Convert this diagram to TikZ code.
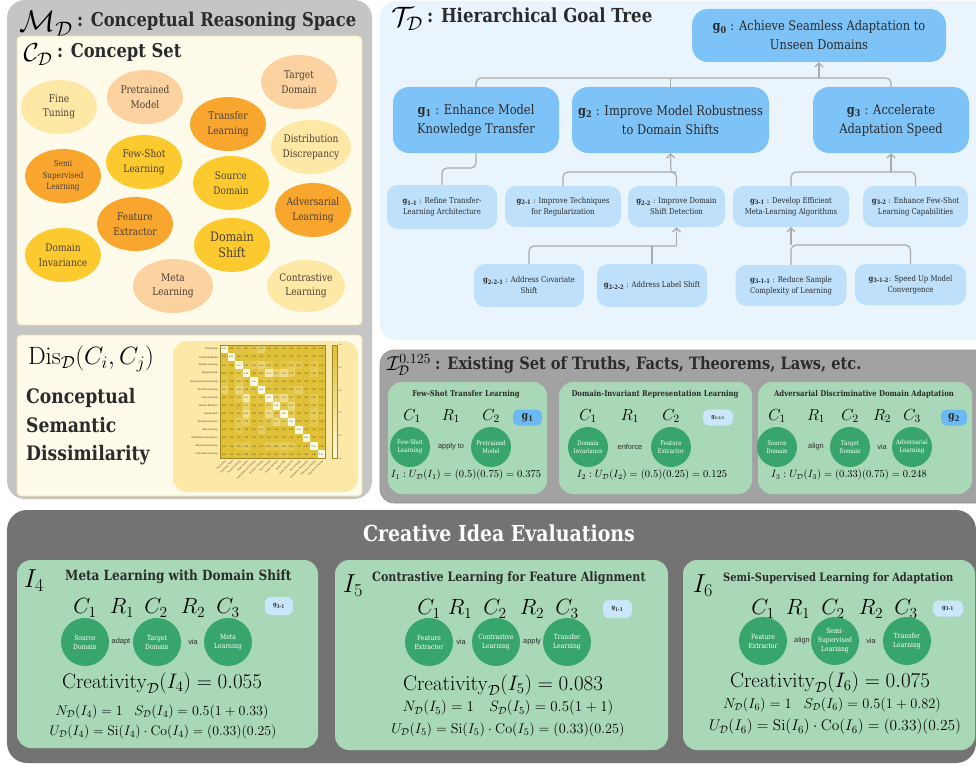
\RequirePackage{fix-cm}
\documentclass[tikz,border=0pt]{standalone}
\usepackage[no-math]{fontspec}
\setmainfont{DejaVu Serif}[FakeStretch=0.86]
\newfontfamily\relfont{Liberation Sans}
\usetikzlibrary{shapes.geometric,arrows.meta}

\definecolor{panelGray}{HTML}{C5C5C5}
\definecolor{cream}{HTML}{FFFBEB}
\definecolor{creamEdge}{HTML}{F2E0A3}
\definecolor{cLight}{HTML}{FEE8A5}
\definecolor{cPeach}{HTML}{FBD2A0}
\definecolor{cOrange}{HTML}{F9A62E}
\definecolor{cYellow}{HTML}{FCCA2E}
\definecolor{conceptText}{HTML}{4A4038}
\definecolor{treeBg}{HTML}{EAF4FD}
\definecolor{goalMain}{HTML}{7EC3F8}
\definecolor{goalSub}{HTML}{BEE0FA}
\definecolor{truthGray}{HTML}{A2A2A2}
\definecolor{ideaGreen}{HTML}{A9D8B8}
\definecolor{conceptGreen}{HTML}{38A56C}
\definecolor{evalGray}{HTML}{737373}
\definecolor{badgeDark}{HTML}{6CB9F3}
\definecolor{badgeLight}{HTML}{C9E6FB}
\definecolor{heatBg}{HTML}{FCE8A7}
\definecolor{heatHigh}{HTML}{E0C036}
\definecolor{heatLow}{HTML}{FFFBE2}
\definecolor{linkGray}{HTML}{ABABAB}
\definecolor{inkDark}{HTML}{2B2B2B}

\newcommand{\fs}[2]{\fontsize{#1}{#2}\selectfont}
\newcommand{\gid}[1]{\textbf{g\textsubscript{#1}}}
\newcommand{\calD}{\mathcal{D}}

\tikzset{
  concept/.style={ellipse, minimum width=76, minimum height=54, inner sep=0, align=center, text=conceptText, font=\fs{10.5}{14.5}},
  goalbox/.style={rectangle, rounded corners=16, fill=goalMain, align=center, text=inkDark, font=\fs{13.3}{19}, inner sep=0},
  subgoal/.style={rectangle, rounded corners=11, fill=goalSub, align=center, text=inkDark, font=\fs{8}{11}, inner sep=0},
  link/.style={draw=linkGray, line width=1.2, rounded corners=5},
  uplink/.style={link, -{Straight Barb[length=4pt,width=8pt,line width=1.2]}},
  ideabox/.style={fill=ideaGreen, rounded corners=14},
  cnode/.style={circle, fill=conceptGreen, text=white, align=center, inner sep=0, font=\fs{6.3}{8}},
  rel/.style={font=\relfont\fs{7.4}{9}, text=inkDark, inner sep=0},
  badge/.style={rectangle, rounded corners=6, inner sep=0, text=inkDark},
  hdr/.style={anchor=west, inner sep=0, text=inkDark},
  mathlbl/.style={inner sep=0, text=black},
  tinylbl/.style={inner sep=0, text=inkDark},
}

\begin{document}
\begin{tikzpicture}[x=1pt,y=-1pt]
\useasboundingbox (0,0) rectangle (976,765);
\fill[white] (0,0) rectangle (976,765);

% ---------------- conceptual reasoning space ----------------
\fill[panelGray, rounded corners=18] (7,0) rectangle (372,499);
\node[mathlbl] (mdsym) at (46,24) {\fs{30}{30}$\mathcal{M}_{\calD}$};
\node[hdr, font=\bfseries\fs{19}{24}] (mdtitle) at (77,21) {: Conceptual Reasoning Space};

\draw[creamEdge, fill=cream, rounded corners=4, line width=0.8] (17,36) rectangle (362,325);
\node[mathlbl] (cdsym) at (38,55) {\fs{26}{26}$\mathcal{C}_{\calD}$};
\node[hdr, font=\bfseries\fs{19}{22}] (cdtitle) at (57,52) {: Concept Set};

\node[concept, fill=cLight] (ft) at (59,107) {Fine\\Tuning};
\node[concept, fill=cPeach] (pm) at (145,97) {Pretrained\\Model};
\node[concept, fill=cPeach] (td) at (299,82) {Target\\Domain};
\node[concept, fill=cOrange] (tl) at (228,124) {Transfer\\Learning};
\node[concept, fill=cLight] (dd) at (311,147) {Distribution\\Discrepancy};
\node[concept, fill=cOrange, font=\fs{8.4}{11.5}] (ssl) at (63,176) {Semi\\Supervised\\Learning};
\node[concept, fill=cYellow] (fsl) at (144,162) {Few-Shot\\Learning};
\node[concept, fill=cYellow] (sd) at (231,183) {Source\\Domain};
\node[concept, fill=cOrange] (al) at (313,210) {Adversarial\\Learning};
\node[concept, fill=cOrange] (fe) at (135,224) {Feature\\Extractor};
\node[concept, fill=cYellow, font=\fs{13}{16}] (ds) at (232,245) {Domain\\Shift};
\node[concept, fill=cYellow] (di) at (63,255) {Domain\\Invariance};
\node[concept, fill=cPeach, minimum width=80] (ml) at (173,286) {Meta\\Learning};
\node[concept, fill=cLight, minimum width=78, minimum height=52] (cl) at (306,286) {Contrastive\\Learning};

% ---------------- semantic dissimilarity ----------------
\draw[creamEdge, fill=cream, rounded corners=4, line width=0.8] (17,335) rectangle (362,496);
\node[mathlbl] (dissym) at (91,359) {\fs{25}{25}$\mathrm{Dis}_{\calD}(C_i, C_j)$};
\node[hdr, anchor=base west, font=\bfseries\fs{20}{24}] (dis1) at (26,403) {Conceptual};
\node[hdr, anchor=base west, font=\bfseries\fs{20}{24}] (dis2) at (26,432) {Semantic};
\node[hdr, anchor=base west, font=\bfseries\fs{20}{24}] (dis3) at (26,460) {Dissimilarity};

\fill[heatBg, rounded corners=14] (173,341) rectangle (358,492);
\foreach \rowvals [count=\i from 0] in {
 {0.00,1.00,0.93,0.97,0.90,0.69,1.00,1.00,0.98,1.00,1.00,1.00,1.00,1.00},
 {1.00,0.00,1.00,1.00,1.00,1.00,1.00,1.00,1.00,1.00,1.00,1.00,1.00,1.00},
 {0.93,1.00,0.00,0.87,0.83,0.64,0.84,1.00,0.91,0.82,0.86,1.00,0.88,1.00},
 {0.97,1.00,0.87,0.00,1.00,0.88,0.31,0.71,0.52,0.78,1.00,1.00,0.83,0.98},
 {0.90,1.00,0.83,1.00,0.00,0.95,0.94,1.00,0.98,1.00,1.00,1.00,1.00,1.00},
 {0.69,1.00,0.64,0.88,0.95,0.00,0.95,0.97,0.98,0.93,0.75,1.00,1.00,1.00},
 {1.00,1.00,0.84,0.31,0.94,0.95,0.00,0.73,0.52,0.87,1.00,1.00,0.85,1.00},
 {1.00,1.00,1.00,0.71,1.00,0.97,0.73,0.00,0.88,0.61,1.00,1.00,0.89,1.00},
 {0.98,1.00,0.91,0.52,0.98,0.98,0.52,0.88,0.00,0.81,1.00,1.00,0.80,0.93},
 {1.00,1.00,0.82,0.78,1.00,0.93,0.87,0.61,0.81,0.00,0.98,1.00,0.85,1.00},
 {1.00,1.00,0.86,1.00,1.00,0.75,1.00,1.00,1.00,0.98,0.00,1.00,1.00,1.00},
 {1.00,1.00,1.00,1.00,1.00,1.00,1.00,1.00,1.00,1.00,1.00,0.00,1.00,1.00},
 {1.00,1.00,0.88,0.83,1.00,1.00,0.85,0.89,0.80,0.85,1.00,1.00,0.00,1.00},
 {1.00,1.00,1.00,0.98,1.00,1.00,1.00,1.00,0.93,1.00,1.00,1.00,1.00,0.00}}{
  \foreach \v [count=\j from 0] in \rowvals {
    \pgfmathtruncatemacro\pct{100*\v}
    \fill[heatHigh!\pct!heatLow] (220+\j*7.5,345+\i*8.1) rectangle ++(7.5,8.1);
    \node[tinylbl, font=\fs{2.1}{2.1}] (hm-\i-\j) at (223.75+\j*7.5,349.05+\i*8.1) {\v};
  }
}
\draw[heatHigh!70!black, line width=0.3] (220,345) rectangle (325,458.4);
\foreach \lab [count=\i from 0] in {Fine-Tuning,Pretrained Model,Transfer Learning,Target Domain,Semi-Supervised Learning,Few-Shot Learning,Source Domain,Feature Extractor,Domain Shift,Domain Invariance,Meta Learning,Distribution Discrepancy,Adversarial Learning,Contrastive Learning}{
  \node[tinylbl, anchor=east, font=\fs{2.4}{2.4}] (hr-\i) at (218,349.05+\i*8.1) {\lab};
  \node[tinylbl, anchor=north east, rotate=45, font=\fs{2.2}{2.2}] (hc-\i) at (224.5+\i*7.5,460) {\lab};
}
\shade[top color=heatHigh, bottom color=heatLow] (332,345) rectangle (337,458.4);
\draw[heatHigh!70!black, line width=0.3] (332,345) rectangle (337,458.4);
\foreach \t [count=\k from 0] in {1.0,0.8,0.6,0.4,0.2,0.0}{
  \node[tinylbl, anchor=west, font=\fs{2}{2}] (cb-\k) at (338.5,345+\k*22.68) {\t};
}

% ---------------- hierarchical goal tree ----------------
\fill[treeBg, rounded corners=16] (380,1) rectangle (1000,340);
\node[mathlbl] (tdsym) at (407,19) {\fs{28}{28}$\mathcal{T}_{\calD}$};
\node[hdr, font=\bfseries\fs{19.3}{22}] (tdtitle) at (427,15) {: Hierarchical Goal Tree};

\node[goalbox, minimum width=254, minimum height=53] (g0) at (819,35.5) {\gid{0} : Achieve Seamless Adaptation to\\Unseen Domains};
\node[goalbox, minimum width=166, minimum height=66] (g1) at (476,120) {\gid{1} : Enhance Model\\Knowledge Transfer};
\node[goalbox, minimum width=197, minimum height=66] (g2) at (670.5,120) {\gid{2} : Improve Model Robustness\\to Domain Shifts};
\node[goalbox, minimum width=156, minimum height=66] (g3) at (891,120) {\gid{3} : Accelerate\\Adaptation Speed};

\node[subgoal, minimum width=110, minimum height=44] (g11) at (442,207) {\gid{1-1} : Refine Transfer-\\Learning Architecture};
\node[subgoal, minimum width=116, minimum height=41] (g21) at (563,206.5) {\gid{2-1} : Improve Techniques\\for Regularization};
\node[subgoal, minimum width=97, minimum height=41] (g22) at (676.5,206.5) {\gid{2-2} : Improve Domain\\Shift Detection};
\node[subgoal, minimum width=116, minimum height=41] (g31) at (791,206.5) {\gid{3-1} : Develop Efficient\\Meta-Learning Algorithms};
\node[subgoal, minimum width=105, minimum height=41] (g32) at (915.5,206.5) {\gid{3-2} : Enhance Few-Shot\\Learning Capabilities};

\node[subgoal, minimum width=110, minimum height=43] (g221) at (529,285.5) {\gid{2-2-1} : Address Covariate\\Shift};
\node[subgoal, minimum width=110, minimum height=43] (g222) at (652,285.5) {\gid{2-2-2} : Address Label Shift};
\node[subgoal, minimum width=111, minimum height=41] (g311) at (791,285.5) {\gid{3-1-1} : Reduce Sample\\Complexity of Learning};
\node[subgoal, minimum width=111, minimum height=41] (g312) at (910.5,284.5) {\gid{3-1-2}: Speed Up Model\\Convergence};

\coordinate (j0) at (819,78);
\draw[link] (g1.north) |- (j0) -| (g3.north);
\draw[link] (g2.north) -- (g2.north |- j0);
\draw[uplink] (j0) -- (g0.south);

\coordinate (j1) at (476,168);
\draw[link] (g11.north) |- (j1) -- (g1.south);

\coordinate (j2) at (671,172);
\draw[link] (g21.north) |- (j2) -| (g22.north);
\draw[uplink] (j2) -- (g2.south);

\coordinate (j3) at (891,172);
\draw[link] (g31.north) |- (j3) -| (g32.north);
\draw[uplink] (j3) -- (g3.south);

\coordinate (j22) at (676.5,246);
\draw[link] (g221.north) |- (j22);
\draw[link] (g222.north) -- (g222.north |- j22);
\draw[uplink] (j22) -- (g22.south);

\coordinate (j31) at (791,245);
\draw[link] (g312.north) |- (j31) -- (g311.north);
\draw[uplink] (j31) -- (g31.south);

% ---------------- existing truths ----------------
\draw[fill=truthGray, draw=black!45, rounded corners=14, line width=0.6] (380,350) rectangle (1000,503);
\node[mathlbl] (idsym) at (409,365) {\fs{20}{20}$\mathcal{I}_{\calD}^{0.125}$};
\node[hdr, font=\bfseries\fs{17}{20}] (idtitle) at (435,365) {: Existing Set of Truths, Facts, Theorems, Laws, etc.};

% I1
\fill[ideabox] (388,382) rectangle (547,494);
\node[tinylbl, font=\bfseries\fs{8}{10}] (i1t) at (466,394) {Few-Shot Transfer Learning};
\node[mathlbl, font=\fs{16}{16}] (i1c1) at (412,416) {$C_1$};
\node[mathlbl, font=\fs{16}{16}] (i1r1) at (451,416) {$R_1$};
\node[mathlbl, font=\fs{16}{16}] (i1c2) at (491,416) {$C_2$};
\node[badge, fill=badgeDark, minimum width=29, minimum height=16, font=\fs{11}{11}] (i1g) at (527.5,417.5) {\gid{1}};
\node[cnode, minimum size=40] (i1a) at (410,447) {Few-Shot\\Learning};
\node[rel] (i1r) at (451,447) {apply to};
\node[cnode, minimum size=40] (i1b) at (491,447) {Pretrained\\Model};
\node[mathlbl, font=\fs{10.5}{12}] (i1f) at (466,475) {$I_1 : U_{\calD}(I_1) = (0.5)(0.75) = 0.375$};

% I2
\fill[ideabox] (559,382) rectangle (752,494);
\node[tinylbl, font=\bfseries\fs{8}{10}] (i2t) at (655,394) {Domain-Invariant Representation Learning};
\node[mathlbl, font=\fs{16}{16}] (i2c1) at (588,416) {$C_1$};
\node[mathlbl, font=\fs{16}{16}] (i2r1) at (630,416) {$R_1$};
\node[mathlbl, font=\fs{16}{16}] (i2c2) at (671,416) {$C_2$};
\node[badge, fill=badgeLight, minimum width=30, minimum height=16, font=\fs{5.5}{6}] (i2g) at (718,417.5) {\gid{2-2-1}};
\node[cnode, minimum size=40] (i2a) at (588,447) {Domain\\Invariance};
\node[rel] (i2r) at (630,447) {enforce};
\node[cnode, minimum size=40] (i2b) at (671,447) {Feature\\Extractor};
\node[mathlbl, font=\fs{10.5}{12}] (i2f) at (652,475) {$I_2 : U_{\calD}(I_2) = (0.5)(0.25) = 0.125$};

% I3
\fill[ideabox] (758,382) rectangle (972,494);
\node[tinylbl, font=\bfseries\fs{8}{10}] (i3t) at (864,394) {Adversarial Discriminative Domain Adaptation};
\node[mathlbl, font=\fs{16}{16}] (i3c1) at (777,416) {$C_1$};
\node[mathlbl, font=\fs{16}{16}] (i3r1) at (816,416) {$R_1$};
\node[mathlbl, font=\fs{16}{16}] (i3c2) at (850,416) {$C_2$};
\node[mathlbl, font=\fs{16}{16}] (i3r2) at (882,416) {$R_2$};
\node[mathlbl, font=\fs{16}{16}] (i3c3) at (912,416) {$C_3$};
\node[badge, fill=badgeDark, minimum width=26, minimum height=16, font=\fs{11}{11}] (i3g) at (954,417.5) {\gid{2}};
\node[cnode, minimum size=40] (i3a) at (777,447) {Source\\Domain};
\node[rel] (i3ra) at (816,447) {align};
\node[cnode, minimum size=40] (i3b) at (850,447) {Target\\Domain};
\node[rel] (i3rb) at (882,447) {via};
\node[cnode, minimum size=40] (i3c) at (912,447) {Adversarial\\Learning};
\node[mathlbl, font=\fs{10.5}{12}] (i3f) at (849,475) {$I_3 : U_{\calD}(I_3) = (0.33)(0.75) = 0.248$};

% ---------------- creative idea evaluations ----------------
\fill[evalGray, rounded corners=20] (7,510) rectangle (976,763);
\node[tinylbl, text=white, font=\bfseries\fs{22}{24}] (cetitle) at (499,533) {Creative Idea Evaluations};

% I4
\fill[ideabox] (17,560) rectangle (318,748);
\node[mathlbl] (i4sym) at (34,581) {\fs{26}{26}$I_4$};
\node[hdr, font=\bfseries\fs{14}{16}] (i4t) at (65,577) {Meta Learning with Domain Shift};
\node[mathlbl, font=\fs{22}{22}] (i4c1) at (85,608) {$C_1$};
\node[mathlbl, font=\fs{22}{22}] (i4r1) at (122,608) {$R_1$};
\node[mathlbl, font=\fs{22}{22}] (i4c2) at (156,608) {$C_2$};
\node[mathlbl, font=\fs{22}{22}] (i4r2) at (193,608) {$R_2$};
\node[mathlbl, font=\fs{22}{22}] (i4c3) at (228,608) {$C_3$};
\node[badge, fill=badgeLight, minimum width=28, minimum height=18, font=\fs{6}{6}] (i4g) at (279,606) {\gid{3-1}};
\node[cnode, minimum size=48, font=\fs{7}{9}] (i4a) at (85,642) {Source\\Domain};
\node[rel] (i4ra) at (121,642) {adapt};
\node[cnode, minimum size=48, font=\fs{7}{9}] (i4b) at (157,642) {Target\\Domain};
\node[rel] (i4rb) at (193,642) {via};
\node[cnode, minimum size=48, font=\fs{7}{9}] (i4c) at (228,642) {Meta\\Learning};
\node[mathlbl, font=\fs{21}{22}] (i4cr) at (162,683) {$\mathrm{Creativity}_{\calD}(I_4) = 0.055$};
\node[mathlbl, font=\fs{14}{15}] (i4n) at (162,712) {$N_{\calD}(I_4) = 1\;\;\; S_{\calD}(I_4) = 0.5(1 + 0.33)$};
\node[mathlbl, font=\fs{13.8}{15}] (i4u) at (163,732) {$U_{\calD}(I_4) = \mathrm{Si}(I_4)\cdot\mathrm{Co}(I_4) = (0.33)(0.25)$};

% I5
\fill[ideabox] (335,560) rectangle (668,750);
\node[mathlbl] (i5sym) at (353,586) {\fs{26}{26}$I_5$};
\node[hdr, font=\bfseries\fs{12.9}{15}] (i5t) at (372,578) {Contrastive Learning for Feature Alignment};
\node[mathlbl, font=\fs{22}{22}] (i5c1) at (429,609) {$C_1$};
\node[mathlbl, font=\fs{22}{22}] (i5r1) at (460,609) {$R_1$};
\node[mathlbl, font=\fs{22}{22}] (i5c2) at (495,609) {$C_2$};
\node[mathlbl, font=\fs{22}{22}] (i5r2) at (532,609) {$R_2$};
\node[mathlbl, font=\fs{22}{22}] (i5c3) at (567,609) {$C_3$};
\node[badge, fill=badgeLight, minimum width=29, minimum height=18, font=\fs{6}{6}] (i5g) at (617.5,609) {\gid{1-1}};
\node[cnode, minimum size=48, font=\fs{7}{9}] (i5a) at (429,642) {Feature\\Extractor};
\node[rel] (i5ra) at (461,642) {via};
\node[cnode, minimum size=48, font=\fs{7}{9}] (i5b) at (496,642) {Contrastive\\Learning};
\node[rel] (i5rb) at (532,642) {apply};
\node[cnode, minimum size=48, font=\fs{7}{9}] (i5c) at (567,642) {Transfer\\Learning};
\node[mathlbl, font=\fs{21}{22}] (i5cr) at (503,685) {$\mathrm{Creativity}_{\calD}(I_5) = 0.083$};
\node[mathlbl, font=\fs{15}{16}] (i5n) at (508,708) {$N_{\calD}(I_5) = 1\quad S_{\calD}(I_5) = 0.5(1 + 1)$};
\node[mathlbl, font=\fs{14.2}{15}] (i5u) at (508,730) {$U_{\calD}(I_5) = \mathrm{Si}(I_5)\cdot\mathrm{Co}(I_5) = (0.33)(0.25)$};

% I6
\fill[ideabox] (683,560) rectangle (975,750);
\node[mathlbl] (i6sym) at (703,586) {\fs{26}{26}$I_6$};
\node[hdr, font=\bfseries\fs{11.5}{14}] (i6t) at (723,578) {Semi-Supervised Learning for Adaptation};
\node[mathlbl, font=\fs{22}{22}] (i6c1) at (763,609) {$C_1$};
\node[mathlbl, font=\fs{22}{22}] (i6r1) at (798,609) {$R_1$};
\node[mathlbl, font=\fs{22}{22}] (i6c2) at (833,609) {$C_2$};
\node[mathlbl, font=\fs{22}{22}] (i6r2) at (871,609) {$R_2$};
\node[mathlbl, font=\fs{22}{22}] (i6c3) at (906,609) {$C_3$};
\node[badge, fill=badgeLight, minimum width=30, minimum height=16, font=\fs{6}{6}] (i6g) at (948,608.5) {\gid{3-1}};
\node[cnode, minimum size=48, font=\fs{7}{9}] (i6a) at (763,641) {Feature\\Extractor};
\node[rel] (i6ra) at (802,641) {align};
\node[cnode, minimum size=48, font=\fs{7}{9}] (i6b) at (835,641) {Semi-\\Supervised\\Learning};
\node[rel] (i6rb) at (871,641) {via};
\node[cnode, minimum size=48, font=\fs{7}{9}] (i6c) at (907,641) {Transfer\\Learning};
\node[mathlbl, font=\fs{21}{22}] (i6cr) at (830,682) {$\mathrm{Creativity}_{\calD}(I_6) = 0.075$};
\node[mathlbl, font=\fs{14.4}{15}] (i6n) at (832,705) {$N_{\calD}(I_6) = 1\;\;\; S_{\calD}(I_6) = 0.5(1 + 0.82)$};
\node[mathlbl, font=\fs{15.4}{16}] (i6u) at (835,727) {$U_{\calD}(I_6) = \mathrm{Si}(I_6)\cdot\mathrm{Co}(I_6) = (0.33)(0.25)$};
\end{tikzpicture}
\end{document}
